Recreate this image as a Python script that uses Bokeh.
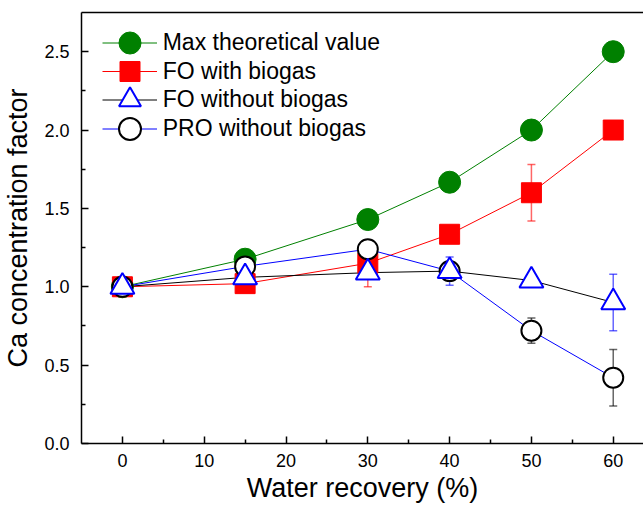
from bokeh.plotting import figure
from bokeh.models import (Range1d, FixedTicker, LinearAxis, Legend, LegendItem,
                          Whisker, TeeHead, ColumnDataSource, PrintfTickFormatter)
from bokeh.embed import file_html
from bokeh.resources import INLINE

# ---- data ----
recovery = [0, 15, 30, 40, 50, 60]
max_theoretical = [1.0, 1.176, 1.429, 1.667, 2.0, 2.5]
fo_biogas = [1.0, 1.02, 1.15, 1.335, 1.60, 2.0]
fo_biogas_err = [0.0, 0.04, 0.15, 0.02, 0.18, 0.0]
fo_no_biogas = [1.0, 1.06, 1.09, 1.10, 1.04, 0.90]
fo_no_biogas_err = [0.0, 0.02, 0.03, 0.09, 0.02, 0.18]
pro_no_biogas = [1.0, 1.13, 1.24, 1.10, 0.72, 0.42]
pro_no_biogas_err = [0.0, 0.04, 0.02, 0.04, 0.08, 0.18]

x_ticks = [0, 10, 20, 30, 40, 50, 60]
x_minor = [5, 15, 25, 35, 45, 55]
y_ticks = [0.0, 0.5, 1.0, 1.5, 2.0, 2.5]
y_minor = [0.25, 0.75, 1.25, 1.75, 2.25]

labels = ["Max theoretical value", "FO with biogas", "FO without biogas", "PRO without biogas"]

FONT = "Liberation Sans"
GREEN, RED, BLUE, BLACK = "#008000", "#FF0000", "#0000FF", "#000000"

p = figure(width=643, height=506, output_backend="svg", toolbar_location=None,
           x_range=Range1d(-5, 63.7), y_range=Range1d(0, 2.75),
           min_border_left=81, min_border_right=0, min_border_top=12,
           min_border_bottom=63, x_axis_label="Water recovery (%)",
           y_axis_label="Ca concentration factor")
p.outline_line_color = None
p.xgrid.visible = False
p.ygrid.visible = False
p.background_fill_color = "white"
p.border_fill_color = "white"

for ax in (p.xaxis[0], p.yaxis[0]):
    ax.axis_line_color = BLACK
    ax.axis_line_width = 1.5
    ax.major_tick_line_color = BLACK
    ax.major_tick_line_width = 1.5
    ax.minor_tick_line_color = BLACK
    ax.minor_tick_line_width = 1.5
    ax.major_tick_in = 7
    ax.major_tick_out = 0
    ax.minor_tick_in = 4
    ax.minor_tick_out = 0
    ax.major_label_text_font = FONT
    ax.major_label_text_font_size = "18px"
    ax.major_label_text_color = BLACK
    ax.axis_label_text_font = FONT
    ax.axis_label_text_font_size = "27px"
    ax.axis_label_text_font_style = "normal"
    ax.axis_label_text_color = BLACK

p.xaxis[0].ticker = FixedTicker(ticks=x_ticks, minor_ticks=x_minor)
p.yaxis[0].ticker = FixedTicker(ticks=y_ticks, minor_ticks=y_minor)
p.yaxis[0].formatter = PrintfTickFormatter(format="%.1f")
p.xaxis[0].major_label_standoff = 10
p.yaxis[0].major_label_standoff = 12
p.xaxis[0].axis_label_standoff = 3
p.yaxis[0].axis_label_standoff = 8

top_axis = LinearAxis(ticker=FixedTicker(ticks=[]), axis_line_color=BLACK, axis_line_width=1.5,
                      major_tick_line_color=None, minor_tick_line_color=None,
                      major_label_text_font_size="0px")
p.add_layout(top_axis, "above")

# ---- error bars (underneath markers) ----
def add_err(vals, errs, color, alpha):
    pts = [(x, v, e) for x, v, e in zip(recovery, vals, errs) if e > 0]
    src = ColumnDataSource(dict(x=[a for a, _, _ in pts],
                                upper=[v + e for _, v, e in pts],
                                lower=[v - e for _, v, e in pts]))
    w = Whisker(base="x", upper="upper", lower="lower", source=src, level="underlay",
                line_color=color, line_alpha=alpha, line_width=1.5,
                upper_head=TeeHead(size=8, line_color=color, line_alpha=alpha, line_width=1.5),
                lower_head=TeeHead(size=8, line_color=color, line_alpha=alpha, line_width=1.5))
    p.add_layout(w)

add_err(fo_biogas, fo_biogas_err, RED, 0.6)
add_err(fo_no_biogas, fo_no_biogas_err, BLUE, 0.6)
add_err(pro_no_biogas, pro_no_biogas_err, BLACK, 0.6)

# ---- lines and markers ----
l1 = p.line(recovery, max_theoretical, line_color=GREEN, line_width=1)
l2 = p.line(recovery, fo_biogas, line_color=RED, line_width=1)
l3 = p.line(recovery, fo_no_biogas, line_color=BLACK, line_width=1)
l4 = p.line(recovery, pro_no_biogas, line_color=BLUE, line_width=1)

m1 = p.scatter(recovery, max_theoretical, marker="circle", size=22,
               fill_color=GREEN, line_color=GREEN)
m2 = p.scatter(recovery, fo_biogas, marker="square", size=20,
               fill_color=RED, line_color=RED)
m4 = p.scatter(recovery, pro_no_biogas, marker="circle", size=20,
               fill_color="white", line_color=BLACK, line_width=2)
m3 = p.scatter(recovery, fo_no_biogas, marker="triangle", size=24,
               fill_color="white", line_color=BLUE, line_width=2)

# ---- legend: one Legend per entry so markers can be full size ----
entries = [(labels[0], [l1, m1], 42.7, 55),
           (labels[1], [l2, m2], 71.7, 50),
           (labels[2], [l3, m3], 100.0, 55),
           (labels[3], [l4, m4], 128.3, 55)]
frame_bottom = 443.3
frame_top = 12.3
for lab, rends, cy, gh in entries:
    vy = (frame_bottom - frame_top) - (cy - frame_top) - gh / 2.0
    leg = Legend(items=[LegendItem(label=lab, renderers=rends)],
                 location=(20.7, vy), padding=0, margin=0, spacing=0,
                 glyph_width=55, glyph_height=gh, label_height=gh,
                 label_standoff=6, border_line_color=None,
                 background_fill_alpha=0.0,
                 label_text_font=FONT, label_text_font_size="23px",
                 label_text_color=BLACK)
    p.add_layout(leg)

open("out.html", "w").write(file_html(p, INLINE))
